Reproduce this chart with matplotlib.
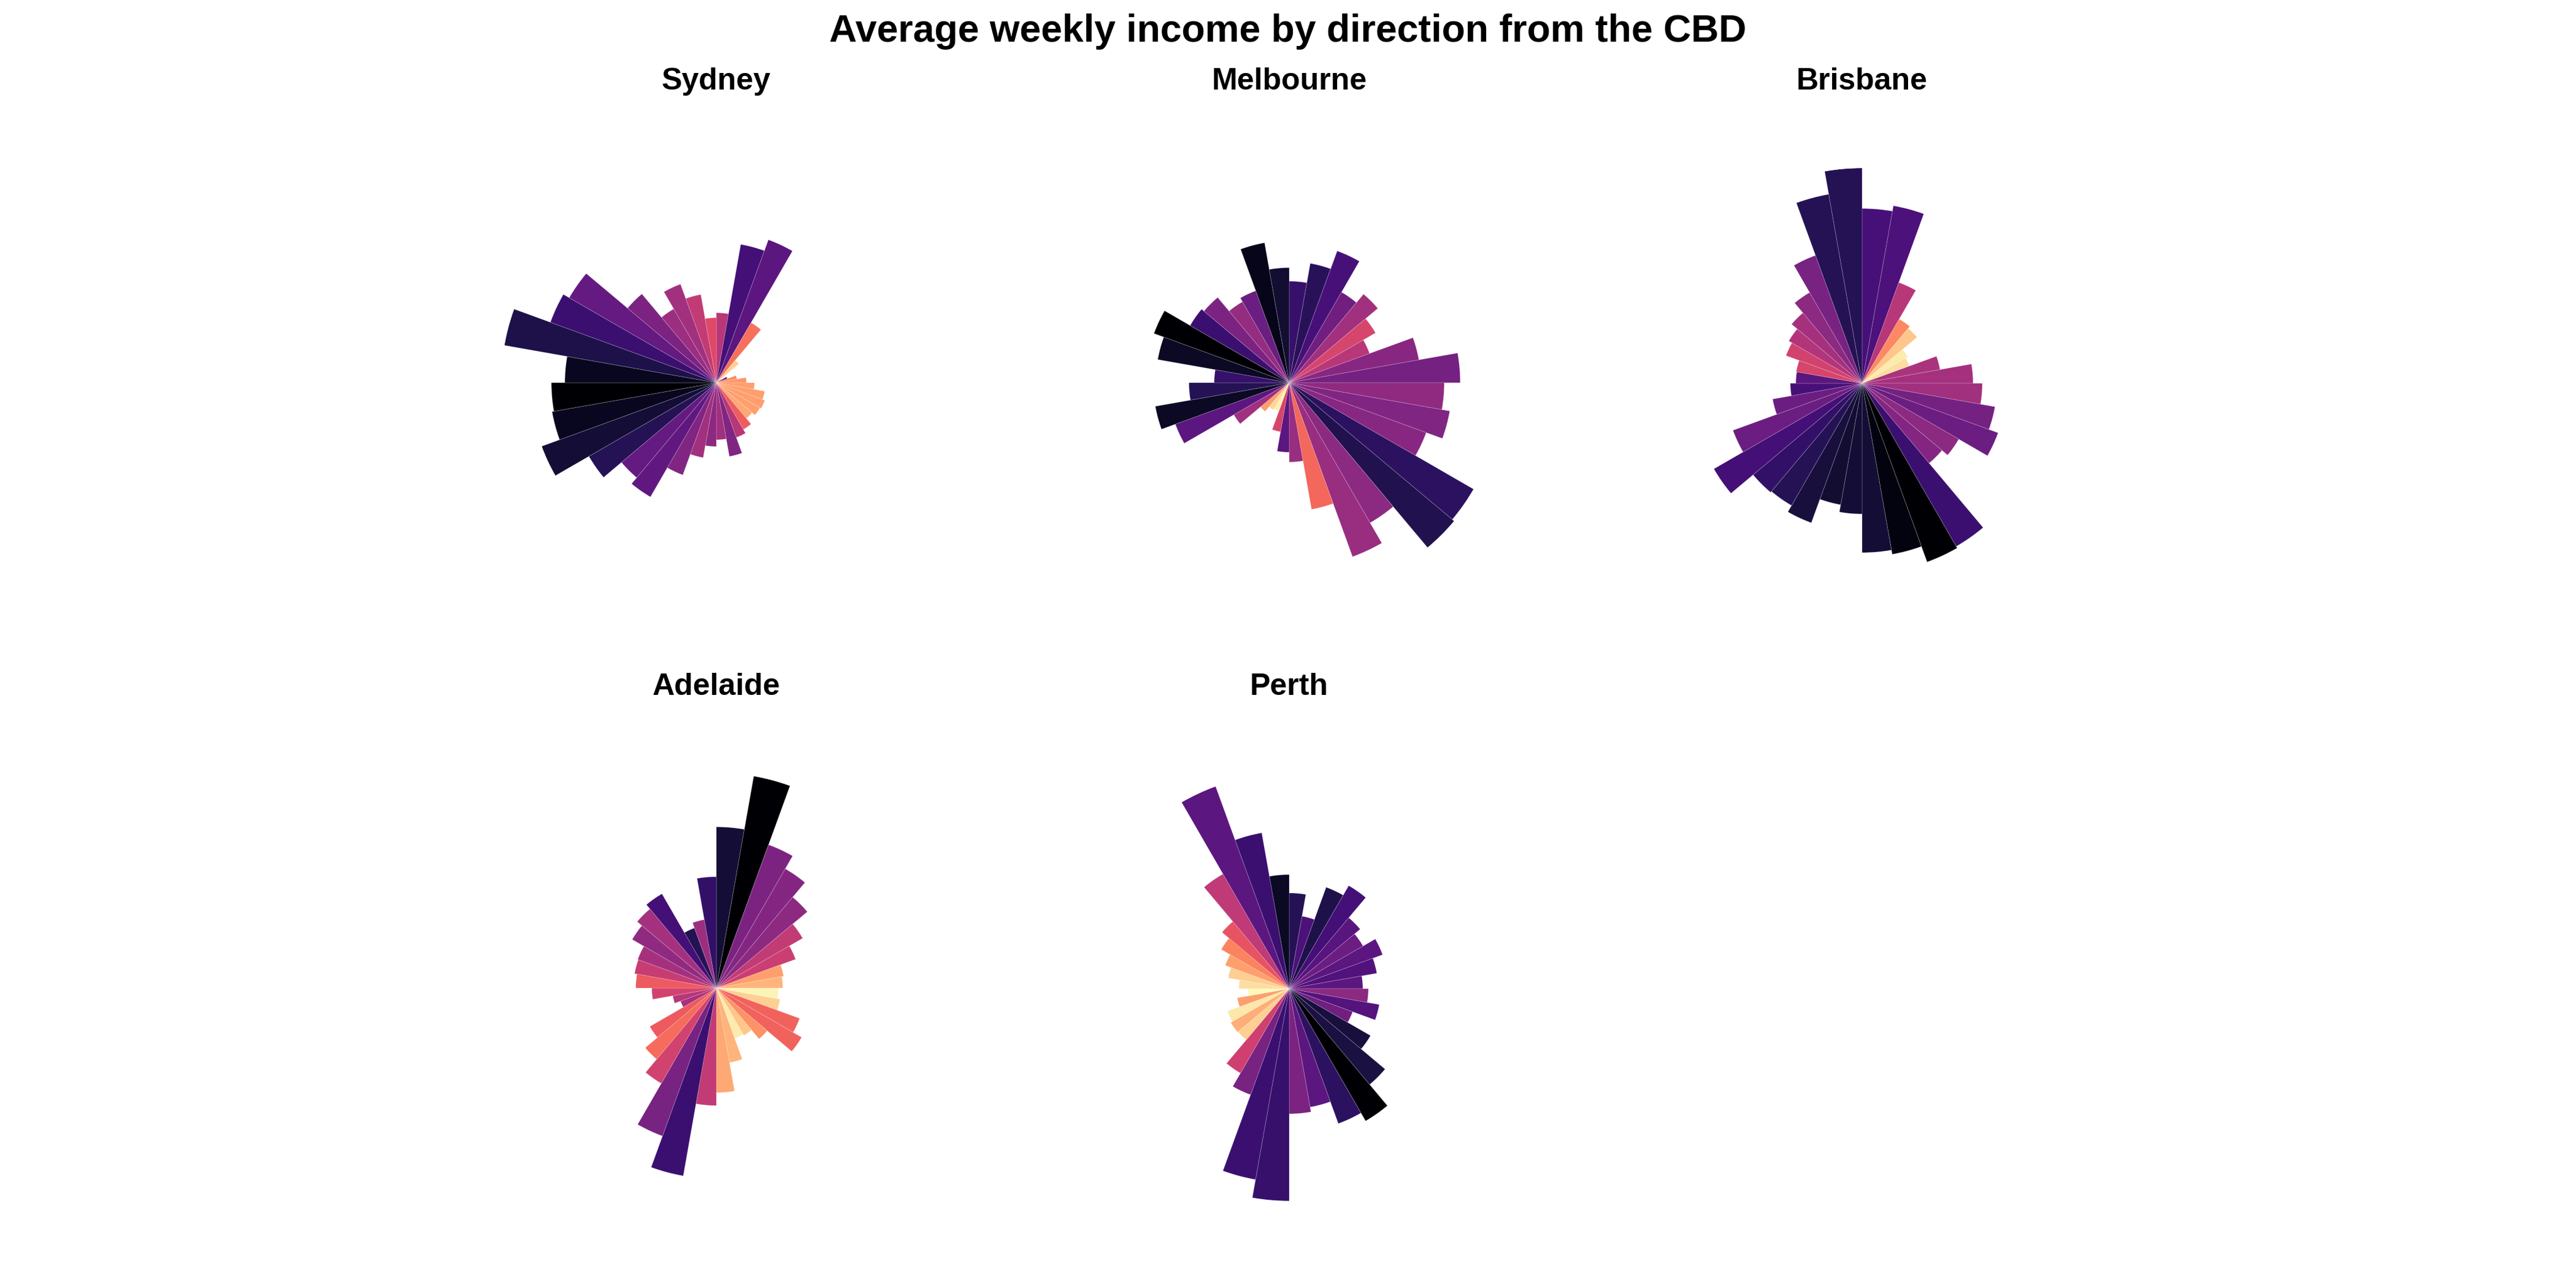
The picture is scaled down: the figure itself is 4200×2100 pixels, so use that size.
import numpy as np
import matplotlib
matplotlib.use("Agg")
import matplotlib.pyplot as plt

plt.rcParams['font.family'] = ['Liberation Sans', 'DejaVu Sans']

# 36 direction bins of 10 degrees, clockwise from north
bearings = np.arange(0, 360, 10)

cities = ["Sydney", "Melbourne", "Brisbane", "Adelaide", "Perth"]

# bar lengths
sydney = [114, 229, 248, 113, 48, 9, 19, 34, 49, 62, 80, 84, 82, 76, 88, 95, 122, 93,
          104, 124, 160, 215, 202, 240, 303, 272, 269, 247, 351, 288, 277, 189, 139, 171, 146, 106]
melbourne = [165, 197, 228, 170, 188, 162, 139, 214, 278, 252, 265, 237, 346, 350, 263, 301, 209, 129,
             113, 81, 49, 51, 61, 104, 197, 221, 163, 122, 217, 234, 186, 181, 152, 159, 231, 187]
brisbane = [285, 294, 175, 121, 117, 86, 82, 129, 181, 196, 220, 236, 182, 170, 307, 310, 283, 276,
            213, 201, 242, 230, 232, 279, 224, 148, 117, 108, 109, 132, 138, 150, 171, 222, 313, 351]
adelaide = [262, 350, 248, 224, 193, 162, 137, 111, 108, 101, 105, 144, 160, 108, 89, 87, 123, 170,
            191, 310, 256, 179, 151, 125, 62, 72, 105, 131, 135, 136, 158, 168, 177, 104, 113, 181]
perth = [156, 120, 176, 194, 151, 139, 162, 145, 120, 129, 149, 110, 153, 204, 249, 234, 196, 204,
         346, 316, 184, 159, 109, 110, 107, 86, 67, 82, 101, 111, 128, 143, 216, 351, 258, 186]

# colour of each bar as a position on the magma scale
sydney_c = [0.50, 0.22, 0.28, 0.70, 0.90, 0.85, 0.27, 0.75, 0.78, 0.80, 0.80, 0.80, 0.80, 0.82, 0.66, 0.50, 0.37, 0.45,
            0.40, 0.45, 0.37, 0.29, 0.30, 0.15, 0.10, 0.06, 0.00, 0.06, 0.13, 0.20, 0.30, 0.36, 0.44, 0.45, 0.53, 0.60]
melbourne_c = [0.19, 0.16, 0.23, 0.33, 0.45, 0.58, 0.50, 0.39, 0.34, 0.41, 0.37, 0.39, 0.17, 0.14, 0.40, 0.43, 0.68, 0.43,
               0.28, 0.58, 0.97, 0.92, 0.80, 0.45, 0.28, 0.07, 0.15, 0.19, 0.07, 0.00, 0.20, 0.36, 0.42, 0.32, 0.05, 0.09]
brisbane_c = [0.23, 0.24, 0.50, 0.75, 0.88, 0.96, 0.93, 0.47, 0.46, 0.45, 0.34, 0.32, 0.40, 0.38, 0.20, 0.00, 0.03, 0.10,
              0.10, 0.09, 0.11, 0.15, 0.18, 0.22, 0.32, 0.32, 0.23, 0.28, 0.58, 0.57, 0.49, 0.46, 0.40, 0.35, 0.15, 0.15]
adelaide_c = [0.10, 0.00, 0.36, 0.38, 0.40, 0.53, 0.55, 0.80, 0.84, 0.98, 0.90, 0.67, 0.67, 0.77, 0.88, 0.96, 0.84, 0.82,
              0.53, 0.20, 0.35, 0.57, 0.69, 0.65, 0.46, 0.50, 0.57, 0.65, 0.54, 0.46, 0.41, 0.46, 0.22, 0.15, 0.44, 0.18]
perth_c = [0.15, 0.24, 0.13, 0.22, 0.27, 0.32, 0.28, 0.25, 0.28, 0.40, 0.26, 0.33, 0.11, 0.12, 0.00, 0.17, 0.28, 0.36,
           0.19, 0.20, 0.35, 0.56, 0.90, 0.83, 0.95, 0.80, 0.99, 0.93, 0.90, 0.80, 0.74, 0.63, 0.52, 0.28, 0.20, 0.07]

values = [sydney, melbourne, brisbane, adelaide, perth]
shades = [sydney_c, melbourne_c, brisbane_c, adelaide_c, perth_c]

# panel centres in pixels (figure is 4200 x 2100)
W, H = 4200, 2100
centres = [(1168, 624), (2102, 624), (3036, 625), (1168, 1611), (2102, 1612)]
title_base = [146, 146, 146, 1133, 1133]
R = 351

fig = plt.figure(figsize=(14, 7), dpi=300)
fig.text(0.5, 1 - 68 / H, "Average weekly income by direction from the CBD",
         ha="center", va="baseline", fontsize=15, fontweight="bold")

theta = np.deg2rad(bearings)
width = np.deg2rad(10)

for name, vals, cs, (cx, cy), tb in zip(cities, values, shades, centres, title_base):
    ax = fig.add_axes([(cx - R) / W, 1 - (cy + R) / H, 2 * R / W, 2 * R / H], projection="polar")
    ax.set_theta_zero_location("N")
    ax.set_theta_direction(-1)
    ax.bar(theta, vals, width=width, align="edge", color=plt.cm.magma(cs),
           edgecolor=(1, 1, 1, 0.25), linewidth=0.2)
    ax.set_ylim(0, max(vals))
    ax.axis("off")
    fig.text(cx / W, 1 - tb / H, name, ha="center", va="baseline", fontsize=12, fontweight="bold")

fig.savefig("out.png", dpi=300, facecolor="white")
